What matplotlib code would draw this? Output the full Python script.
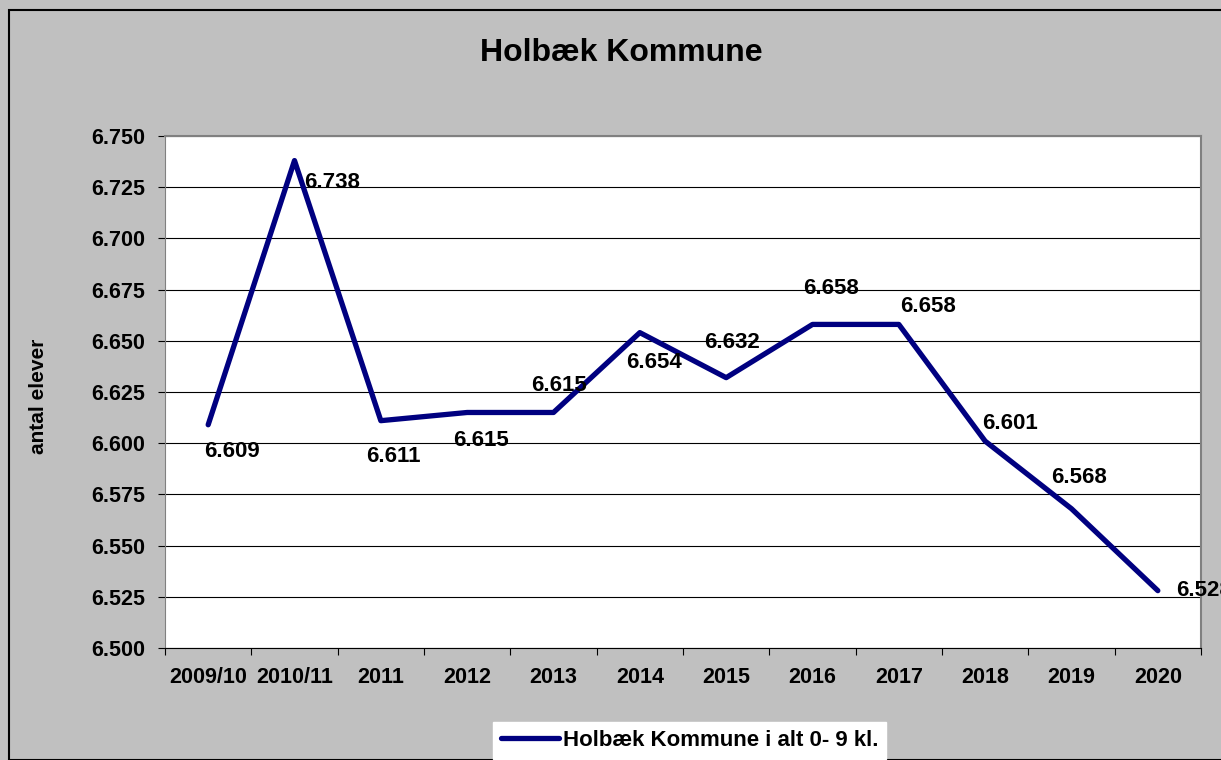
import matplotlib.pyplot as plt
from matplotlib.ticker import FuncFormatter, FixedLocator
from matplotlib.patches import Rectangle

plt.rcParams['font.family'] = ['Liberation Sans', 'DejaVu Sans']
plt.rcParams['font.weight'] = 'bold'

years = ["2009/10", "2010/11", "2011", "2012", "2013", "2014",
         "2015", "2016", "2017", "2018", "2019", "2020"]
elever = [6609, 6738, 6611, 6615, 6615, 6654, 6632, 6658, 6658, 6601, 6568, 6528]
# label offsets (pixels) from each point, as in the original
lab_dx = [24, 38, 13, 14, 5, 14, 6, 19, 29, 25, 7, 46]
lab_dy = [-27, -22, -36, -28, 27, -30, 35, 36, 18, 18, 31, 0]


def dk(v, pos=None):
    return f"{int(round(v)):,}".replace(",", ".")


W, H = 1221, 760
fig = plt.figure(figsize=(W / 100, H / 100), dpi=100, facecolor="#c0c0c0")
fig.patches.append(Rectangle((9 / W, 0), 1.2, 1 - 10 / H, transform=fig.transFigure,
                             fill=False, edgecolor="black", linewidth=1.5))

ax = fig.add_axes([165 / W, (H - 648) / H, 1036 / W, 512 / H])
ax.set_facecolor("white")

x = list(range(len(years)))
ax.plot(x, elever, color="#000080", linewidth=3.8, solid_capstyle="round",
        label="Holbæk Kommune i alt 0- 9 kl.", zorder=3)

for xi, v, dx, dy in zip(x, elever, lab_dx, lab_dy):
    ax.annotate(dk(v), (xi, v), xytext=(dx * 0.72, dy * 0.72), textcoords="offset points",
                ha="center", va="center", fontsize=16, fontweight="bold",
                annotation_clip=False, clip_on=False, zorder=4)

ax.set_xlim(-0.5, len(years) - 0.5)
ax.set_ylim(6500, 6750)
ax.yaxis.set_major_locator(FixedLocator(range(6500, 6751, 25)))
ax.yaxis.set_major_formatter(FuncFormatter(dk))
ax.grid(axis="y", color="black", linewidth=0.8)
ax.set_axisbelow(True)

ax.xaxis.set_major_locator(FixedLocator([i - 0.5 for i in range(len(years) + 1)]))
ax.xaxis.set_major_formatter(FuncFormatter(lambda v, p: ""))
ax.xaxis.set_minor_locator(FixedLocator(x))
ax.set_xticklabels(years, minor=True)
ax.tick_params(axis="x", which="major", direction="out", length=5, color="black")
ax.tick_params(axis="x", which="minor", length=0, pad=14, labelsize=15.5)
ax.tick_params(axis="y", direction="out", length=5, pad=9, labelsize=15.5)

for s in ["top", "right"]:
    ax.spines[s].set_color("#808080")
    ax.spines[s].set_linewidth(1.5)
ax.spines["left"].set_color("#808080")
ax.spines["bottom"].set_color("black")

fig.text(621 / W, 1 - 53 / H, "Holbæk Kommune", ha="center", va="center",
         fontsize=23, fontweight="bold")
fig.text(38 / W, 1 - 396 / H, "antal elever", ha="center", va="center",
         rotation=90, fontsize=15, fontweight="bold")

leg = fig.legend(loc="upper left", bbox_to_anchor=(493 / W, 1 - 722 / H), frameon=True,
                 fancybox=False, borderaxespad=0, fontsize=16, handlelength=2.6,
                 handletextpad=0.2, borderpad=0.35)
leg.get_frame().set_edgecolor("white")
leg.get_frame().set_facecolor("white")
leg.get_frame().set_alpha(1)

fig.savefig("out.png", dpi=100, facecolor=fig.get_facecolor())
